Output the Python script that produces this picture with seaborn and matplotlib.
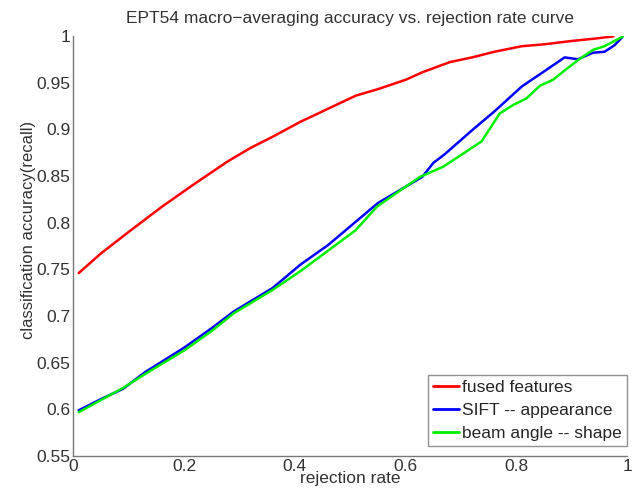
import numpy as np
import pandas as pd
import matplotlib
matplotlib.use('Agg')
import matplotlib.pyplot as plt
import seaborn as sns
from matplotlib.ticker import FuncFormatter

# values
fused_x = [0.01, 0.05, 0.10, 0.16, 0.22, 0.28, 0.32, 0.36, 0.41, 0.46, 0.51, 0.55,
           0.60, 0.63, 0.68, 0.72, 0.76, 0.81, 0.85, 0.90, 0.94, 0.975]
fused_y = [0.746, 0.767, 0.790, 0.817, 0.842, 0.866, 0.880, 0.892, 0.908, 0.922, 0.936, 0.943,
           0.953, 0.961, 0.972, 0.977, 0.983, 0.989, 0.991, 0.9946, 0.997, 0.9995]

sift_x = [0.01, 0.05, 0.09, 0.13, 0.20, 0.25, 0.29, 0.36, 0.41, 0.46, 0.50, 0.55,
          0.59, 0.63, 0.65, 0.67, 0.72, 0.76, 0.81, 0.85, 0.887, 0.911, 0.938,
          0.959, 0.977, 0.991]
sift_y = [0.599, 0.611, 0.622, 0.640, 0.666, 0.687, 0.705, 0.730, 0.755, 0.776, 0.796, 0.821,
          0.835, 0.849, 0.864, 0.873, 0.899, 0.919, 0.946, 0.962, 0.977, 0.975, 0.982,
          0.983, 0.990, 0.9986]

beam_x = [0.01, 0.05, 0.09, 0.13, 0.20, 0.25, 0.29, 0.36, 0.41, 0.46, 0.51, 0.548,
          0.584, 0.626, 0.668, 0.704, 0.737, 0.770, 0.794, 0.818, 0.842, 0.866,
          0.887, 0.911, 0.938, 0.959, 0.992]
beam_y = [0.597, 0.610, 0.623, 0.638, 0.663, 0.684, 0.703, 0.728, 0.748, 0.770, 0.792, 0.817,
          0.832, 0.849, 0.860, 0.874, 0.887, 0.917, 0.926, 0.933, 0.9465, 0.953,
          0.963, 0.974, 0.985, 0.989, 0.9993]

labels = ['fused features', 'SIFT -- appearance', 'beam angle -- shape']
colors = ['#ff0000', '#0000ff', '#00ee00']

sns.set_style('white')
plt.rcParams['font.family'] = ['Liberation Sans', 'DejaVu Sans']
fs = 12.5

fig = plt.figure(figsize=(6.42, 4.92), dpi=100)
ax = fig.add_axes([0.114, 0.073, 0.863, 0.854])

for xs, ys, lab, col in zip([fused_x, sift_x, beam_x], [fused_y, sift_y, beam_y], labels, colors):
    df = pd.DataFrame({'x': xs, 'y': ys})
    sns.lineplot(data=df, x='x', y='y', ax=ax, color=col, linewidth=1.8, label=lab,
                 estimator=None, sort=False)

ax.set_xlim(0, 1)
ax.set_ylim(0.55, 1)
ax.set_xticks([0, 0.2, 0.4, 0.6, 0.8, 1])
ax.set_yticks(np.round(np.arange(0.55, 1.001, 0.05), 2))
fmt = FuncFormatter(lambda v, p: '%g' % round(v, 2))
ax.xaxis.set_major_formatter(fmt)
ax.yaxis.set_major_formatter(fmt)
ax.tick_params(direction='in', length=4, width=0.8, colors='#666666', labelcolor='#333333',
               labelsize=fs, pad=2)
for s in ['top', 'right']:
    ax.spines[s].set_visible(False)
for s in ['left', 'bottom']:
    ax.spines[s].set_color('#777777')
    ax.spines[s].set_linewidth(1.0)

ax.set_title('EPT54 macro\u2212averaging accuracy vs. rejection rate curve', fontsize=fs,
             color='#333333', pad=9)
ax.set_xlabel('rejection rate', fontsize=fs, color='#333333', labelpad=-2)
ax.set_ylabel('classification accuracy(recall)', fontsize=12, color='#333333')
ax.yaxis.set_label_coords(-0.067, 0.538)

leg = ax.legend(loc='lower right', fontsize=fs, frameon=True, fancybox=False,
                borderpad=0.3, handlelength=1.5, handletextpad=0.2, labelspacing=0.45,
                borderaxespad=0, bbox_to_anchor=(1.0, 10 / 420))
leg.get_frame().set_edgecolor('#777777')
leg.get_frame().set_linewidth(1.0)
for line in leg.get_lines():
    line.set_linewidth(2)

fig.savefig('out.png', dpi=100)
